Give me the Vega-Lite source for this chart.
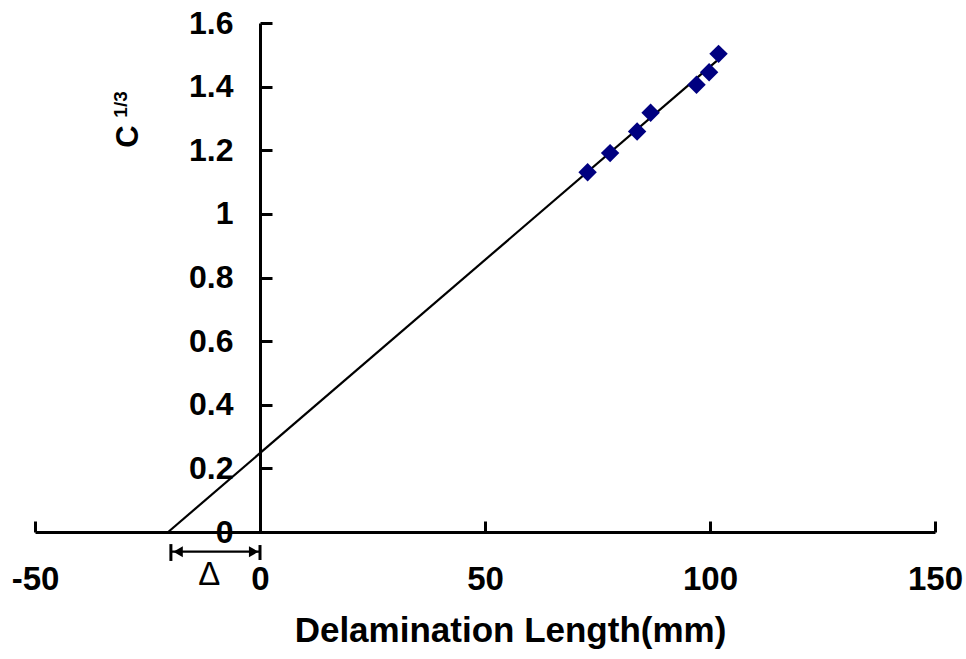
{
  "$schema": "https://vega.github.io/schema/vega-lite/v6.json",
  "width": 900,
  "height": 509,
  "autosize": {"type": "none"},
  "padding": {"left": 35, "top": 23, "right": 31, "bottom": 127},
  "background": "white",
  "datasets": {
    "measured": [
      {"length": 72.8, "c": 1.131},
      {"length": 77.8, "c": 1.191},
      {"length": 83.8, "c": 1.259},
      {"length": 86.8, "c": 1.318},
      {"length": 97.0, "c": 1.406},
      {"length": 99.8, "c": 1.445},
      {"length": 101.9, "c": 1.503}
    ],
    "fit": [
      {"length": -20.4, "c": 0},
      {"length": 101.5, "c": 1.481}
    ],
    "shaft": [
      {"length": -20, "length_end": 0, "c": -0.062}
    ],
    "caps": [
      {"length": -19.8, "c": -0.038, "c_end": -0.091},
      {"length": 0, "c": -0.041, "c_end": -0.088}
    ],
    "heads": [
      {"length": -18.2, "c": -0.062, "dir": "left"},
      {"length": -1.4, "c": -0.062, "dir": "right"}
    ],
    "delta": [
      {"length": -11.3, "c": -0.166, "label": "Δ"}
    ],
    "ytitle": [
      {"length": -29.1, "c": 1.243, "label": "C", "part": "base"},
      {"length": -30.8, "c": 1.344, "label": "1/3", "part": "sup"}
    ]
  },
  "encoding": {
    "x": {
      "field": "length",
      "type": "quantitative",
      "scale": {"domain": [-50, 150], "nice": false, "zero": false},
      "axis": {
        "values": [-50, 0, 50, 100, 150],
        "labelExpr": "'' + datum.value",
        "grid": false,
        "domainColor": "black",
        "domainWidth": 3,
        "tickColor": "black",
        "tickWidth": 3,
        "tickSize": -11,
        "labelFont": "Liberation Sans",
        "labelFontWeight": "bold",
        "labelFontSize": 33,
        "labelColor": "black",
        "labelPadding": 42,
        "labelFlush": false,
        "labelOverlap": false,
        "title": "Delamination Length(mm)",
        "titleFont": "Liberation Sans",
        "titleFontWeight": "bold",
        "titleFontSize": 35,
        "titleColor": "black",
        "titlePadding": 17,
        "titleX": 475,
        "titleAlign": "center"
      }
    },
    "y": {
      "field": "c",
      "type": "quantitative",
      "scale": {"domain": [0, 1.6], "nice": false, "zero": false},
      "axis": {
        "values": [0, 0.2, 0.4, 0.6, 0.8, 1, 1.2, 1.4, 1.6],
        "labelExpr": "'' + datum.value",
        "offset": -225,
        "grid": false,
        "domainColor": "black",
        "domainWidth": 3,
        "tickColor": "black",
        "tickWidth": 3,
        "tickSize": -12,
        "labelFont": "Liberation Sans",
        "labelFontWeight": "bold",
        "labelFontSize": 32,
        "labelColor": "black",
        "labelPadding": 39,
        "labelFlush": false,
        "labelOverlap": false,
        "title": null
      }
    }
  },
  "layer": [
    {
      "data": {"name": "fit"},
      "mark": {"type": "line", "color": "black", "strokeWidth": 2.2}
    },
    {
      "data": {"name": "measured"},
      "mark": {"type": "point", "shape": "diamond", "filled": true, "color": "#000080", "opacity": 1, "size": 340}
    },
    {
      "data": {"name": "shaft"},
      "mark": {"type": "rule", "color": "black", "strokeWidth": 2.2},
      "encoding": {"x2": {"field": "length_end"}}
    },
    {
      "data": {"name": "caps"},
      "mark": {"type": "rule", "color": "black", "strokeWidth": 3},
      "encoding": {"y2": {"field": "c_end"}}
    },
    {
      "data": {"name": "heads"},
      "mark": {"type": "point", "filled": true, "color": "black", "opacity": 1, "size": 120},
      "encoding": {
        "shape": {
          "field": "dir",
          "type": "nominal",
          "scale": {"domain": ["left", "right"], "range": ["triangle-left", "triangle-right"]},
          "legend": null
        }
      }
    },
    {
      "data": {"name": "delta"},
      "mark": {"type": "text", "font": "Liberation Sans", "fontSize": 33, "color": "black", "align": "center", "baseline": "alphabetic"},
      "encoding": {"text": {"field": "label"}}
    },
    {
      "data": {"name": "ytitle"},
      "mark": {"type": "text", "font": "Liberation Sans", "fontWeight": "bold", "color": "black", "angle": 270, "align": "center", "baseline": "middle"},
      "encoding": {
        "text": {"field": "label"},
        "size": {
          "field": "part",
          "type": "nominal",
          "scale": {"domain": ["base", "sup"], "range": [31, 19]},
          "legend": null
        }
      }
    }
  ],
  "config": {
    "view": {"stroke": null}
  }
}
